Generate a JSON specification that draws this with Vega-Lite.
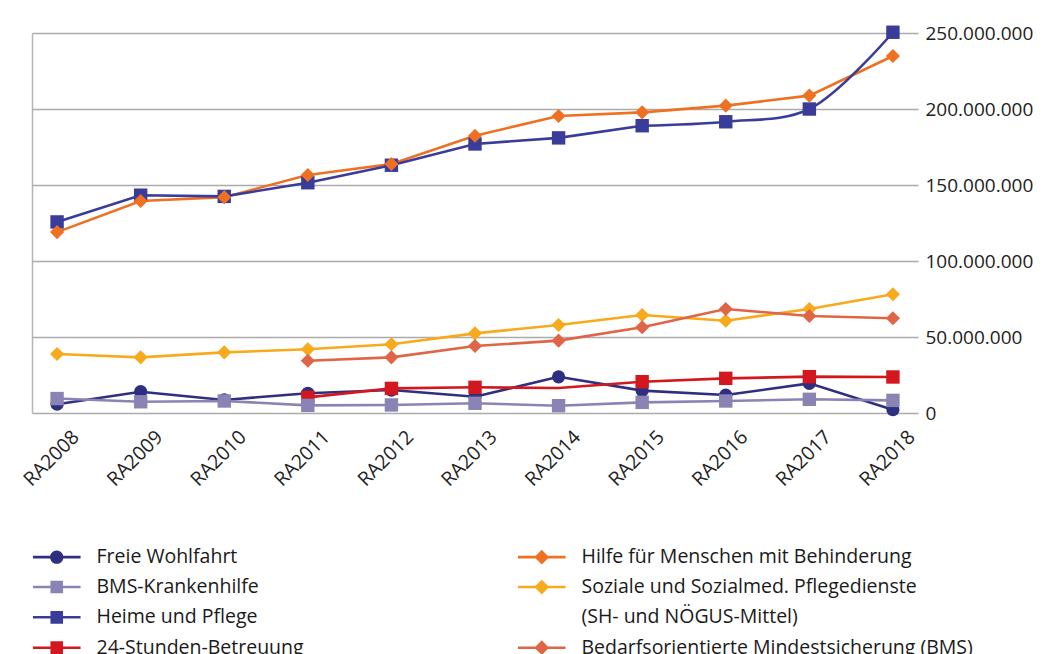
{
  "$schema": "https://vega.github.io/schema/vega-lite/v6.json",
  "width": 886,
  "height": 380,
  "autosize": {"type": "none"},
  "padding": {"left": 32, "top": 33, "right": 125, "bottom": 241},
  "background": "white",
  "config": {"view": {"stroke": null}, "font": "Open Sans"},
  "data": {
    "values": [
      {"year": "RA2008", "series": "Freie Wohlfahrt", "value": 5800000},
      {"year": "RA2009", "series": "Freie Wohlfahrt", "value": 14000000},
      {"year": "RA2010", "series": "Freie Wohlfahrt", "value": 8600000},
      {"year": "RA2011", "series": "Freie Wohlfahrt", "value": 13000000},
      {"year": "RA2012", "series": "Freie Wohlfahrt", "value": 15100000},
      {"year": "RA2013", "series": "Freie Wohlfahrt", "value": 10700000},
      {"year": "RA2014", "series": "Freie Wohlfahrt", "value": 23800000},
      {"year": "RA2015", "series": "Freie Wohlfahrt", "value": 14700000},
      {"year": "RA2016", "series": "Freie Wohlfahrt", "value": 11800000},
      {"year": "RA2017", "series": "Freie Wohlfahrt", "value": 19500000},
      {"year": "RA2018", "series": "Freie Wohlfahrt", "value": 2200000},
      {"year": "RA2011", "series": "24-Stunden-Betreuung", "value": 10300000},
      {"year": "RA2012", "series": "24-Stunden-Betreuung", "value": 16200000},
      {"year": "RA2013", "series": "24-Stunden-Betreuung", "value": 16900000},
      {"year": "RA2014", "series": "24-Stunden-Betreuung", "value": 16400000},
      {"year": "RA2015", "series": "24-Stunden-Betreuung", "value": 20600000},
      {"year": "RA2016", "series": "24-Stunden-Betreuung", "value": 22800000},
      {"year": "RA2017", "series": "24-Stunden-Betreuung", "value": 23900000},
      {"year": "RA2018", "series": "24-Stunden-Betreuung", "value": 23700000},
      {"year": "RA2008", "series": "BMS-Krankenhilfe", "value": 9500000},
      {"year": "RA2009", "series": "BMS-Krankenhilfe", "value": 7400000},
      {"year": "RA2010", "series": "BMS-Krankenhilfe", "value": 7900000},
      {"year": "RA2011", "series": "BMS-Krankenhilfe", "value": 5000000},
      {"year": "RA2012", "series": "BMS-Krankenhilfe", "value": 5300000},
      {"year": "RA2013", "series": "BMS-Krankenhilfe", "value": 6400000},
      {"year": "RA2014", "series": "BMS-Krankenhilfe", "value": 4800000},
      {"year": "RA2015", "series": "BMS-Krankenhilfe", "value": 7000000},
      {"year": "RA2016", "series": "BMS-Krankenhilfe", "value": 7900000},
      {"year": "RA2017", "series": "BMS-Krankenhilfe", "value": 9000000},
      {"year": "RA2018", "series": "BMS-Krankenhilfe", "value": 8300000},
      {"year": "RA2008", "series": "Heime und Pflege", "value": 125700000},
      {"year": "RA2009", "series": "Heime und Pflege", "value": 143300000},
      {"year": "RA2010", "series": "Heime und Pflege", "value": 142500000},
      {"year": "RA2011", "series": "Heime und Pflege", "value": 151500000},
      {"year": "RA2012", "series": "Heime und Pflege", "value": 163000000},
      {"year": "RA2013", "series": "Heime und Pflege", "value": 177000000},
      {"year": "RA2014", "series": "Heime und Pflege", "value": 181000000},
      {"year": "RA2015", "series": "Heime und Pflege", "value": 189000000},
      {"year": "RA2016", "series": "Heime und Pflege", "value": 191600000},
      {"year": "RA2017", "series": "Heime und Pflege", "value": 200000000},
      {"year": "RA2018", "series": "Heime und Pflege", "value": 250500000},
      {"year": "RA2008", "series": "Soziale und Sozialmed. Pflegedienste", "value": 38800000},
      {"year": "RA2009", "series": "Soziale und Sozialmed. Pflegedienste", "value": 36600000},
      {"year": "RA2010", "series": "Soziale und Sozialmed. Pflegedienste", "value": 39900000},
      {"year": "RA2011", "series": "Soziale und Sozialmed. Pflegedienste", "value": 41900000},
      {"year": "RA2012", "series": "Soziale und Sozialmed. Pflegedienste", "value": 45200000},
      {"year": "RA2013", "series": "Soziale und Sozialmed. Pflegedienste", "value": 52400000},
      {"year": "RA2014", "series": "Soziale und Sozialmed. Pflegedienste", "value": 57900000},
      {"year": "RA2015", "series": "Soziale und Sozialmed. Pflegedienste", "value": 64500000},
      {"year": "RA2016", "series": "Soziale und Sozialmed. Pflegedienste", "value": 60700000},
      {"year": "RA2017", "series": "Soziale und Sozialmed. Pflegedienste", "value": 68400000},
      {"year": "RA2018", "series": "Soziale und Sozialmed. Pflegedienste", "value": 78100000},
      {"year": "RA2011", "series": "Bedarfsorientierte Mindestsicherung (BMS)", "value": 34400000},
      {"year": "RA2012", "series": "Bedarfsorientierte Mindestsicherung (BMS)", "value": 36600000},
      {"year": "RA2013", "series": "Bedarfsorientierte Mindestsicherung (BMS)", "value": 44100000},
      {"year": "RA2014", "series": "Bedarfsorientierte Mindestsicherung (BMS)", "value": 47600000},
      {"year": "RA2015", "series": "Bedarfsorientierte Mindestsicherung (BMS)", "value": 56400000},
      {"year": "RA2016", "series": "Bedarfsorientierte Mindestsicherung (BMS)", "value": 68400000},
      {"year": "RA2017", "series": "Bedarfsorientierte Mindestsicherung (BMS)", "value": 63800000},
      {"year": "RA2018", "series": "Bedarfsorientierte Mindestsicherung (BMS)", "value": 62300000},
      {"year": "RA2008", "series": "Hilfe für Menschen mit Behinderung", "value": 119000000},
      {"year": "RA2009", "series": "Hilfe für Menschen mit Behinderung", "value": 139500000},
      {"year": "RA2010", "series": "Hilfe für Menschen mit Behinderung", "value": 142000000},
      {"year": "RA2011", "series": "Hilfe für Menschen mit Behinderung", "value": 156600000},
      {"year": "RA2012", "series": "Hilfe für Menschen mit Behinderung", "value": 163800000},
      {"year": "RA2013", "series": "Hilfe für Menschen mit Behinderung", "value": 182400000},
      {"year": "RA2014", "series": "Hilfe für Menschen mit Behinderung", "value": 195400000},
      {"year": "RA2015", "series": "Hilfe für Menschen mit Behinderung", "value": 197800000},
      {"year": "RA2016", "series": "Hilfe für Menschen mit Behinderung", "value": 202200000},
      {"year": "RA2017", "series": "Hilfe für Menschen mit Behinderung", "value": 208800000},
      {"year": "RA2018", "series": "Hilfe für Menschen mit Behinderung", "value": 234900000}
    ]
  },
  "encoding": {
    "x": {
      "field": "year", "type": "ordinal",
      "scale": {"type": "point", "padding": 0.3},
      "title": null,
      "axis": {
        "labelAngle": -45, "labelAlign": "center", "labelBaseline": "middle",
        "labelPadding": 45, "labelOffset": -6, "labelFontSize": 19.5, "labelColor": "#222222",
        "labelFont": "Open Sans", "domain": false, "ticks": false, "grid": false
      }
    },
    "y": {
      "field": "value", "type": "quantitative", "axis": null,
      "scale": {"domain": [0, 250000000], "nice": false, "zero": true}
    },
    "color": {
      "field": "series", "type": "nominal", "legend": null,
      "scale": {
        "domain": ["Freie Wohlfahrt", "BMS-Krankenhilfe", "Heime und Pflege", "24-Stunden-Betreuung", "Hilfe für Menschen mit Behinderung", "Soziale und Sozialmed. Pflegedienste", "(SH- und NÖGUS-Mittel)", "Bedarfsorientierte Mindestsicherung (BMS)"],
        "range": ["#2e2f80", "#8a84b5", "#393c99", "#d2171f", "#f07022", "#f8a91c", "rgba(0,0,0,0)", "#df6546"]
      }
    }
  },
  "layer": [
    {
      "transform": [{"filter": "false"}],
      "mark": {"type": "point", "filled": true, "opacity": 1},
      "encoding": {
        "color": {
          "field": "series", "type": "nominal",
          "legend": {
            "title": null, "orient": "none", "legendX": 15, "legendY": 514,
            "direction": "vertical", "columns": 2, "gridAlign": "all",
            "columnPadding": 29, "rowPadding": 9.3,
            "labelFont": "Open Sans", "labelFontSize": 19.5, "labelColor": "#1a1a1a",
            "labelOffset": 30, "labelLimit": 600, "symbolSize": 196, "symbolStrokeWidth": 0
          }
        },
        "shape": {
          "field": "series", "type": "nominal",
          "scale": {
            "domain": ["Freie Wohlfahrt", "BMS-Krankenhilfe", "Heime und Pflege", "24-Stunden-Betreuung", "Hilfe für Menschen mit Behinderung", "Soziale und Sozialmed. Pflegedienste", "(SH- und NÖGUS-Mittel)", "Bedarfsorientierte Mindestsicherung (BMS)"],
            "range": [
              "M-3.4,-0.18H3.4V0.18H-3.4ZM0.95,0A0.95,0.95 0 1,1 -0.95,0A0.95,0.95 0 1,1 0.95,0Z",
              "M-3.4,-0.18H3.4V0.18H-3.4ZM-0.9,-0.9H0.9V0.9H-0.9Z",
              "M-3.4,-0.18H3.4V0.18H-3.4ZM-0.9,-0.9H0.9V0.9H-0.9Z",
              "M-3.4,-0.18H3.4V0.18H-3.4ZM-0.9,-0.9H0.9V0.9H-0.9Z",
              "M-3.4,-0.18H3.4V0.18H-3.4ZM0,-1.05L1.05,0L0,1.05L-1.05,0Z",
              "M-3.4,-0.18H3.4V0.18H-3.4ZM0,-1.05L1.05,0L0,1.05L-1.05,0Z",
              "M0,0",
              "M-3.4,-0.18H3.4V0.18H-3.4ZM0,-1.05L1.05,0L0,1.05L-1.05,0Z"
            ]
          }
        }
      }
    },
    {
      "transform": [{"filter": "datum.series != 'Heime und Pflege'"}],
      "mark": {"type": "line", "strokeWidth": 2.6, "interpolate": "linear"},
      "encoding": {
        "y": {
          "field": "value", "type": "quantitative", "title": null,
          "axis": {
            "orient": "right", "values": [0, 50000000, 100000000, 150000000, 200000000, 250000000],
            "labelExpr": "replace(format(datum.value, ',d'), regexp(',', 'g'), '.')",
            "grid": true, "gridColor": "#ababab", "gridWidth": 1.5,
            "domain": false, "ticks": false, "labelPadding": 7,
            "labelFontSize": 19, "labelColor": "#222222", "labelFont": "Open Sans"
          }
        }
      }
    },
    {
      "transform": [{"filter": "datum.series == 'Heime und Pflege' && datum.year <= 'RA2015'"}],
      "mark": {"type": "line", "strokeWidth": 2.6, "interpolate": "linear"},
      "encoding": {
        "y": {
          "field": "value", "type": "quantitative", "title": null,
          "axis": {"orient": "left", "labels": false, "ticks": false, "grid": false, "domain": true, "domainColor": "#b5b5b5", "domainWidth": 1.5, "values": [0, 250000000]}
        }
      }
    },
    {
      "transform": [{"filter": "datum.series == 'Heime und Pflege' && datum.year >= 'RA2015'"}],
      "mark": {"type": "line", "strokeWidth": 2.6, "interpolate": "catmull-rom"}
    },
    {
      "transform": [{"filter": "datum.series == 'Freie Wohlfahrt'"}],
      "mark": {"type": "point", "shape": "circle", "filled": true, "opacity": 1, "size": 175}
    },
    {
      "transform": [{"filter": "(datum.series == '24-Stunden-Betreuung' && datum.year != 'RA2014') || datum.series == 'BMS-Krankenhilfe' || datum.series == 'Heime und Pflege'"}],
      "mark": {"type": "point", "shape": "square", "filled": true, "opacity": 1, "size": 180}
    },
    {
      "transform": [{"filter": "datum.series == 'Soziale und Sozialmed. Pflegedienste' || datum.series == 'Bedarfsorientierte Mindestsicherung (BMS)' || datum.series == 'Hilfe für Menschen mit Behinderung'"}],
      "mark": {"type": "point", "shape": "diamond", "filled": true, "opacity": 1, "size": 200}
    }
  ],
  "resolve": {"axis": {"y": "independent"}}
}
